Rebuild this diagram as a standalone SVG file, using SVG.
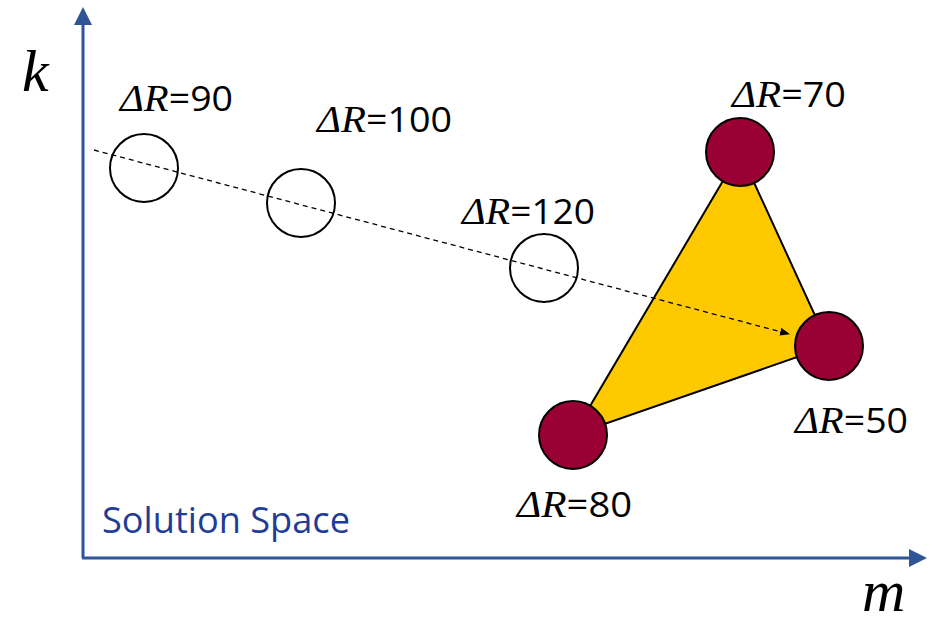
<svg xmlns="http://www.w3.org/2000/svg" width="932" height="623" viewBox="0 0 932 623">
<style>
.axis{stroke:#2F5597;stroke-width:3;fill:none}
.open{fill:none;stroke:#000;stroke-width:2}
.red{fill:#990033;stroke:#000;stroke-width:2}
.lbl{font-family:"Open Sans","Liberation Sans",sans-serif;font-size:35px;fill:#000}
.mi{font-family:"Liberation Serif","DejaVu Serif",serif;font-style:italic;font-size:38px}
.var{font-family:"Liberation Serif","DejaVu Serif",serif;font-style:italic;font-size:60px;fill:#000}
</style>
<defs>
<marker id="ax" markerWidth="6" markerHeight="6" refX="3" refY="3" orient="auto" markerUnits="strokeWidth">
<path d="M0,0 L6,3 L0,6 Z" fill="#2F5597"/>
</marker>
<marker id="dh" markerWidth="10" markerHeight="8" refX="9" refY="4" orient="auto" markerUnits="userSpaceOnUse">
<path d="M0,0 L10,4 L0,8 Z" fill="#000"/>
</marker>
</defs>
<g id="axes">
<line class="axis" x1="83" y1="558" x2="83" y2="16" marker-end="url(#ax)"/>
<line class="axis" x1="82" y1="558" x2="918" y2="558" marker-end="url(#ax)"/>
<text class="var" x="22" y="91">k</text>
<text class="var" x="862" y="611">m</text>
<text x="102" y="533" font-family="Open Sans, Liberation Sans, sans-serif" font-size="36" fill="#1F3C99" textLength="248" lengthAdjust="spacingAndGlyphs">Solution Space</text>
</g>
<g id="triangle">
<polygon points="740,152 829,346 573,435" fill="#FFC900" stroke="#000" stroke-width="2"/>
</g>
<g id="connectors">
<line x1="94" y1="150" x2="789" y2="334" stroke="#000" stroke-width="1.3" stroke-dasharray="5,4" marker-end="url(#dh)"/>
</g>
<g id="n90">
<circle class="open" cx="144" cy="168" r="34"/>
<text class="lbl" x="120" y="111" textLength="113" lengthAdjust="spacingAndGlyphs"><tspan class="mi">ΔR</tspan>=90</text>
</g>
<g id="n100">
<circle class="open" cx="301" cy="203" r="34"/>
<text class="lbl" x="317" y="132" textLength="135" lengthAdjust="spacingAndGlyphs"><tspan class="mi">ΔR</tspan>=100</text>
</g>
<g id="n120">
<circle class="open" cx="544" cy="268" r="34"/>
<text class="lbl" x="462" y="224" textLength="133" lengthAdjust="spacingAndGlyphs"><tspan class="mi">ΔR</tspan>=120</text>
</g>
<g id="n70">
<circle class="red" cx="740" cy="152" r="34"/>
<text class="lbl" x="732" y="107" textLength="114" lengthAdjust="spacingAndGlyphs"><tspan class="mi">ΔR</tspan>=70</text>
</g>
<g id="n50">
<circle class="red" cx="829" cy="346" r="34"/>
<text class="lbl" x="795" y="433" textLength="113" lengthAdjust="spacingAndGlyphs"><tspan class="mi">ΔR</tspan>=50</text>
</g>
<g id="n80">
<circle class="red" cx="573" cy="435" r="34"/>
<text class="lbl" x="517" y="517" textLength="115" lengthAdjust="spacingAndGlyphs"><tspan class="mi">ΔR</tspan>=80</text>
</g>
</svg>
